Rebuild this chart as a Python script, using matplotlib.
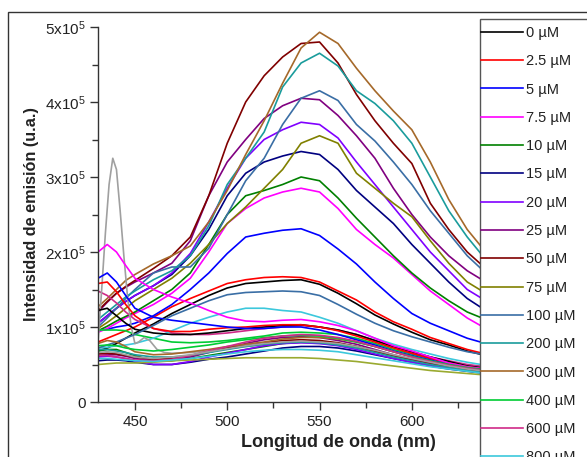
import matplotlib
matplotlib.use("Agg")
import matplotlib.pyplot as plt
from matplotlib.patches import Rectangle
from matplotlib.ticker import MultipleLocator, FuncFormatter

# wavelength grid (nm) shared by all spectra except the narrow spike
wl = [430, 435, 440, 445, 450, 460, 470, 480, 490, 500, 510, 520, 530, 540,
      550, 560, 570, 580, 590, 600, 610, 620, 630, 640]

# intensities in units of 1e5
s_0 = [0.68, 0.72, 0.78, 0.85, 0.92, 1.04, 1.18, 1.30, 1.42, 1.52, 1.58, 1.60, 1.62, 1.63,
       1.57, 1.45, 1.31, 1.16, 1.04, 0.93, 0.83, 0.76, 0.68, 0.62]
s_2_5 = [0.80, 0.85, 0.90, 0.95, 1.00, 1.13, 1.27, 1.38, 1.48, 1.58, 1.63, 1.66, 1.67, 1.66,
         1.60, 1.48, 1.36, 1.20, 1.07, 0.97, 0.86, 0.78, 0.70, 0.64]
s_5 = [0.95, 0.97, 1.00, 1.02, 1.05, 1.15, 1.30, 1.50, 1.72, 1.98, 2.20, 2.25, 2.29, 2.31,
       2.22, 2.04, 1.84, 1.60, 1.38, 1.18, 1.05, 0.95, 0.85, 0.78]
s_7_5 = [0.93, 0.98, 1.05, 1.12, 1.18, 1.30, 1.45, 1.65, 2.00, 2.38, 2.58, 2.72, 2.80, 2.85,
         2.80, 2.58, 2.30, 2.10, 1.92, 1.70, 1.48, 1.30, 1.12, 0.98]
s_10 = [0.95, 1.01, 1.08, 1.14, 1.20, 1.35, 1.50, 1.72, 2.10, 2.50, 2.75, 2.82, 2.90, 3.00,
        2.95, 2.72, 2.45, 2.20, 1.95, 1.72, 1.52, 1.35, 1.20, 1.10]
s_15 = [1.05, 1.15, 1.25, 1.34, 1.42, 1.55, 1.70, 1.95, 2.30, 2.75, 3.05, 3.20, 3.28, 3.34,
        3.30, 3.10, 2.82, 2.60, 2.38, 2.10, 1.85, 1.60, 1.38, 1.22]
s_20 = [1.05, 1.15, 1.25, 1.34, 1.42, 1.55, 1.72, 1.98, 2.40, 2.85, 3.25, 3.50, 3.63, 3.73,
        3.70, 3.52, 3.20, 2.90, 2.60, 2.30, 2.00, 1.75, 1.50, 1.35]
s_25 = [1.20, 1.33, 1.45, 1.53, 1.60, 1.72, 1.85, 2.15, 2.75, 3.20, 3.50, 3.78, 3.95, 4.05,
        4.03, 3.82, 3.55, 3.25, 2.85, 2.50, 2.20, 1.95, 1.75, 1.60]
s_50 = [1.22, 1.34, 1.45, 1.54, 1.62, 1.78, 1.95, 2.20, 2.75, 3.45, 4.00, 4.35, 4.60, 4.78,
        4.80, 4.52, 4.10, 3.75, 3.45, 3.18, 2.65, 2.30, 2.00, 1.78]
s_75 = [0.98, 1.06, 1.15, 1.25, 1.35, 1.50, 1.65, 1.85, 2.10, 2.38, 2.60, 2.85, 3.10, 3.45,
        3.55, 3.45, 3.05, 2.85, 2.65, 2.47, 2.15, 1.85, 1.60, 1.45]
s_100 = [1.00, 1.12, 1.25, 1.38, 1.50, 1.72, 1.80, 1.80, 2.05, 2.50, 2.95, 3.25, 3.70, 4.05,
         4.15, 4.02, 3.70, 3.48, 3.20, 2.90, 2.55, 2.25, 1.95, 1.72]
s_200 = [1.10, 1.20, 1.30, 1.40, 1.48, 1.63, 1.75, 1.95, 2.35, 2.90, 3.25, 3.60, 4.20, 4.52,
         4.65, 4.48, 4.15, 3.98, 3.75, 3.45, 3.00, 2.55, 2.20, 1.90]
s_300 = [1.27, 1.38, 1.50, 1.62, 1.70, 1.84, 1.95, 2.08, 2.40, 2.82, 3.30, 3.75, 4.25, 4.72,
         4.93, 4.78, 4.45, 4.15, 3.88, 3.63, 3.20, 2.70, 2.30, 2.00]
s_400 = [0.96, 0.96, 0.96, 0.95, 0.90, 0.85, 0.80, 0.79, 0.80, 0.82, 0.85, 0.88, 0.92, 0.93,
         0.92, 0.90, 0.85, 0.78, 0.70, 0.64, 0.58, 0.53, 0.48, 0.45]
s_600 = [1.48, 1.42, 1.32, 1.20, 1.10, 0.98, 0.92, 0.90, 0.90, 0.92, 0.95, 0.98, 1.00, 1.02,
         1.00, 0.96, 0.90, 0.82, 0.74, 0.67, 0.60, 0.55, 0.50, 0.47]
s_800 = [0.72, 0.73, 0.75, 0.76, 0.78, 0.85, 0.95, 1.05, 1.13, 1.20, 1.25, 1.25, 1.22, 1.20,
         1.13, 1.05, 0.95, 0.85, 0.77, 0.70, 0.64, 0.58, 0.53, 0.49]
s_1200 = [1.22, 1.25, 1.15, 1.05, 0.97, 0.92, 0.90, 0.90, 0.92, 0.95, 0.98, 1.00, 1.02, 1.03,
          1.00, 0.96, 0.90, 0.82, 0.74, 0.67, 0.60, 0.54, 0.48, 0.45]
s_1400 = [1.58, 1.60, 1.47, 1.30, 1.15, 0.98, 0.94, 0.94, 0.97, 0.99, 1.00, 1.02, 1.03, 1.03,
          1.00, 0.95, 0.88, 0.80, 0.72, 0.65, 0.58, 0.52, 0.47, 0.44]
s_1600 = [1.65, 1.72, 1.60, 1.42, 1.25, 1.13, 1.09, 1.06, 1.03, 1.00, 0.98, 0.98, 1.00, 1.00,
          0.96, 0.90, 0.83, 0.76, 0.68, 0.62, 0.56, 0.50, 0.45, 0.42]
s_1800 = [2.00, 2.10, 2.00, 1.82, 1.65, 1.50, 1.40, 1.32, 1.22, 1.13, 1.08, 1.07, 1.09, 1.10,
          1.07, 1.02, 0.95, 0.85, 0.75, 0.68, 0.60, 0.52, 0.47, 0.44]
s_2000 = [0.68, 0.70, 0.70, 0.66, 0.62, 0.55, 0.55, 0.58, 0.62, 0.66, 0.70, 0.74, 0.78, 0.80,
          0.80, 0.78, 0.74, 0.68, 0.62, 0.57, 0.52, 0.47, 0.43, 0.40]
s_2200 = [0.55, 0.56, 0.56, 0.55, 0.53, 0.50, 0.50, 0.53, 0.57, 0.60, 0.64, 0.68, 0.72, 0.74,
          0.74, 0.72, 0.68, 0.63, 0.58, 0.53, 0.48, 0.44, 0.41, 0.38]
s_2400 = [0.60, 0.61, 0.60, 0.58, 0.55, 0.50, 0.50, 0.54, 0.60, 0.65, 0.70, 0.75, 0.78, 0.79,
          0.78, 0.75, 0.70, 0.64, 0.58, 0.53, 0.49, 0.45, 0.42, 0.39]
s_2600 = [0.62, 0.63, 0.63, 0.61, 0.58, 0.55, 0.56, 0.60, 0.66, 0.72, 0.78, 0.83, 0.86, 0.87,
          0.86, 0.82, 0.77, 0.70, 0.63, 0.57, 0.52, 0.47, 0.43, 0.40]
s_2800 = [0.64, 0.65, 0.64, 0.62, 0.60, 0.57, 0.58, 0.62, 0.67, 0.72, 0.76, 0.79, 0.82, 0.83,
          0.82, 0.79, 0.74, 0.68, 0.62, 0.56, 0.51, 0.47, 0.43, 0.40]
s_3000 = [0.50, 0.51, 0.52, 0.52, 0.52, 0.53, 0.55, 0.56, 0.57, 0.58, 0.59, 0.59, 0.59, 0.59,
          0.58, 0.56, 0.54, 0.51, 0.48, 0.45, 0.42, 0.40, 0.38, 0.36]
s_3200 = [0.72, 0.76, 0.80, 0.85, 0.90, 1.02, 1.15, 1.25, 1.35, 1.43, 1.46, 1.47, 1.48, 1.47,
          1.42, 1.30, 1.17, 1.05, 0.95, 0.87, 0.80, 0.73, 0.67, 0.63]
s_3400 = [0.70, 0.70, 0.68, 0.66, 0.63, 0.60, 0.60, 0.62, 0.66, 0.70, 0.74, 0.77, 0.79, 0.80,
          0.79, 0.76, 0.72, 0.66, 0.60, 0.55, 0.50, 0.46, 0.42, 0.39]
s_3600 = [0.78, 0.82, 0.80, 0.74, 0.67, 0.63, 0.64, 0.67, 0.70, 0.74, 0.77, 0.80, 0.84, 0.86,
          0.86, 0.84, 0.80, 0.74, 0.67, 0.60, 0.54, 0.49, 0.45, 0.42]
s_3800 = [0.75, 0.76, 0.75, 0.72, 0.70, 0.68, 0.70, 0.73, 0.76, 0.80, 0.83, 0.86, 0.88, 0.89,
          0.88, 0.85, 0.80, 0.74, 0.67, 0.61, 0.55, 0.50, 0.46, 0.43]
s_4000 = [0.62, 0.62, 0.60, 0.58, 0.56, 0.55, 0.57, 0.62, 0.68, 0.74, 0.80, 0.85, 0.88, 0.90,
          0.89, 0.86, 0.81, 0.74, 0.67, 0.60, 0.54, 0.49, 0.45, 0.42]
s_4200 = [0.58, 0.58, 0.57, 0.56, 0.55, 0.54, 0.56, 0.58, 0.61, 0.64, 0.67, 0.69, 0.70, 0.70,
          0.69, 0.67, 0.63, 0.59, 0.55, 0.51, 0.47, 0.44, 0.41, 0.38]
s_4400 = [0.66, 0.67, 0.66, 0.63, 0.60, 0.58, 0.60, 0.63, 0.67, 0.71, 0.75, 0.78, 0.80, 0.81,
          0.80, 0.78, 0.74, 0.69, 0.63, 0.58, 0.53, 0.48, 0.44, 0.41]

# the 1000 uM spectrum has a sharp band near 438 nm, sampled finer
wl_spike = [430, 432, 434, 436, 438, 440, 442, 444, 446, 448, 450, 452, 455,
            458, 462, 466, 470, 480, 490, 500, 510, 520, 530, 540, 550, 560, 570, 580,
            590, 600, 610, 620, 630, 640]
s_1000 = [0.80, 1.50, 2.25, 2.90, 3.25, 3.10, 2.55, 1.95, 1.40, 1.00, 0.78,
          0.80, 0.86, 0.82, 0.70, 0.66, 0.65, 0.66, 0.68, 0.71, 0.74, 0.76, 0.78, 0.79,
          0.78, 0.76, 0.72, 0.67, 0.61, 0.56, 0.51, 0.47, 0.43, 0.40]

conc = ["0", "2.5", "5", "7.5", "10", "15", "20", "25", "50", "75", "100", "200",
        "300", "400", "600", "800", "1000", "1200", "1400", "1600", "1800", "2000",
        "2200", "2400", "2600", "2800", "3000", "3200", "3400", "3600", "3800",
        "4000", "4200", "4400"]
spectra = [s_0, s_2_5, s_5, s_7_5, s_10, s_15, s_20, s_25, s_50, s_75, s_100, s_200,
           s_300, s_400, s_600, s_800, s_1000, s_1200, s_1400, s_1600, s_1800, s_2000,
           s_2200, s_2400, s_2600, s_2800, s_3000, s_3200, s_3400, s_3600, s_3800,
           s_4000, s_4200, s_4400]

# Origin-like colour cycle
colors = ["#000000", "#FF0000", "#0000FF", "#FF00FF", "#008000", "#000080",
          "#8000FF", "#800080", "#800000", "#808000", "#3A6EA5", "#1A9C9C",
          "#A5692A", "#00CC33", "#D02A88", "#3CC8DC", "#A0A0A0"]
colors = colors + colors[:10] + ["#3A6EA5", "#1A9C9C", "#A5692A", "#00CC33",
                                 "#D02A88", "#3CC8DC", "#A0A0A0"]
colors[26] = "#9AAA30"

plt.rcParams["font.family"] = ["Liberation Sans", "DejaVu Sans"]
plt.rcParams["mathtext.fontset"] = "custom"
plt.rcParams["mathtext.rm"] = "Liberation Sans"


def ytick_fmt(v, pos):
    if v == 0:
        return "0"
    return r"%dx10$\mathregular{^5}$" % round(v / 1e5)


def main():
    W, H = 587, 457
    fig = plt.figure(figsize=(W / 100, H / 100), dpi=100)
    ax = fig.add_axes([98 / W, 1 - 402 / H, 480 / W, 375 / H])

    handles = []
    for i, (c, s) in enumerate(zip(conc, spectra)):
        x = wl_spike if c == "1000" else wl
        (ln,) = ax.plot(x, [v * 1e5 for v in s], color=colors[i], lw=1.2,
                        label=f"{c} µM")
        handles.append(ln)

    ax.set_xlim(430, 690)
    ax.set_ylim(0, 5e5)
    ax.xaxis.set_major_locator(MultipleLocator(50))
    ax.xaxis.set_minor_locator(MultipleLocator(25))
    ax.yaxis.set_major_locator(MultipleLocator(1e5))
    ax.yaxis.set_minor_locator(MultipleLocator(0.5e5))
    ax.yaxis.set_major_formatter(FuncFormatter(ytick_fmt))

    for sp in ("top", "right"):
        ax.spines[sp].set_visible(False)
    for sp in ("left", "bottom"):
        ax.spines[sp].set_color("#333333")
        ax.spines[sp].set_linewidth(1.0)
    ax.tick_params(which="major", length=6, width=1.0, color="#333333",
                   labelsize=11, labelcolor="#222222", pad=3)
    ax.tick_params(which="minor", length=4, width=1.0, color="#333333")

    ax.set_xlabel("Longitud de onda (nm)", fontsize=13, fontweight="bold",
                  color="#222222")
    ax.xaxis.set_label_coords(0.5, -(434 - 402) / 375)
    ax.set_ylabel("Intensidad de emisión (u.a.)", fontsize=11.7,
                  fontweight="bold", color="#222222")
    ax.yaxis.set_label_coords((39 - 98) / 480, 0.5)

    # legend panel drawn over the right part of the axes
    fig.add_artist(Rectangle((480 / W, -0.5), 1.0, 1 - 19 / H + 0.5,
                             transform=fig.transFigure, facecolor="white",
                             edgecolor="#555555", lw=1.0, zorder=3))
    fig.legend(handles=handles, loc="upper left",
               bbox_to_anchor=(481 / W, 1 - 26 / H), frameon=False,
               borderpad=0, borderaxespad=0, handlelength=2.85,
               handletextpad=0.25, labelspacing=0.98, fontsize=10.5,
               labelcolor="#222222")

    # outer frame of the original figure
    fig.add_artist(Rectangle((8 / W, -0.5), 1.0, 1 - 12 / H + 0.5,
                             transform=fig.transFigure, fill=False,
                             edgecolor="#333333", lw=1.0, zorder=4))

    fig.savefig("out.png", dpi=100)


if __name__ == "__main__":
    main()
